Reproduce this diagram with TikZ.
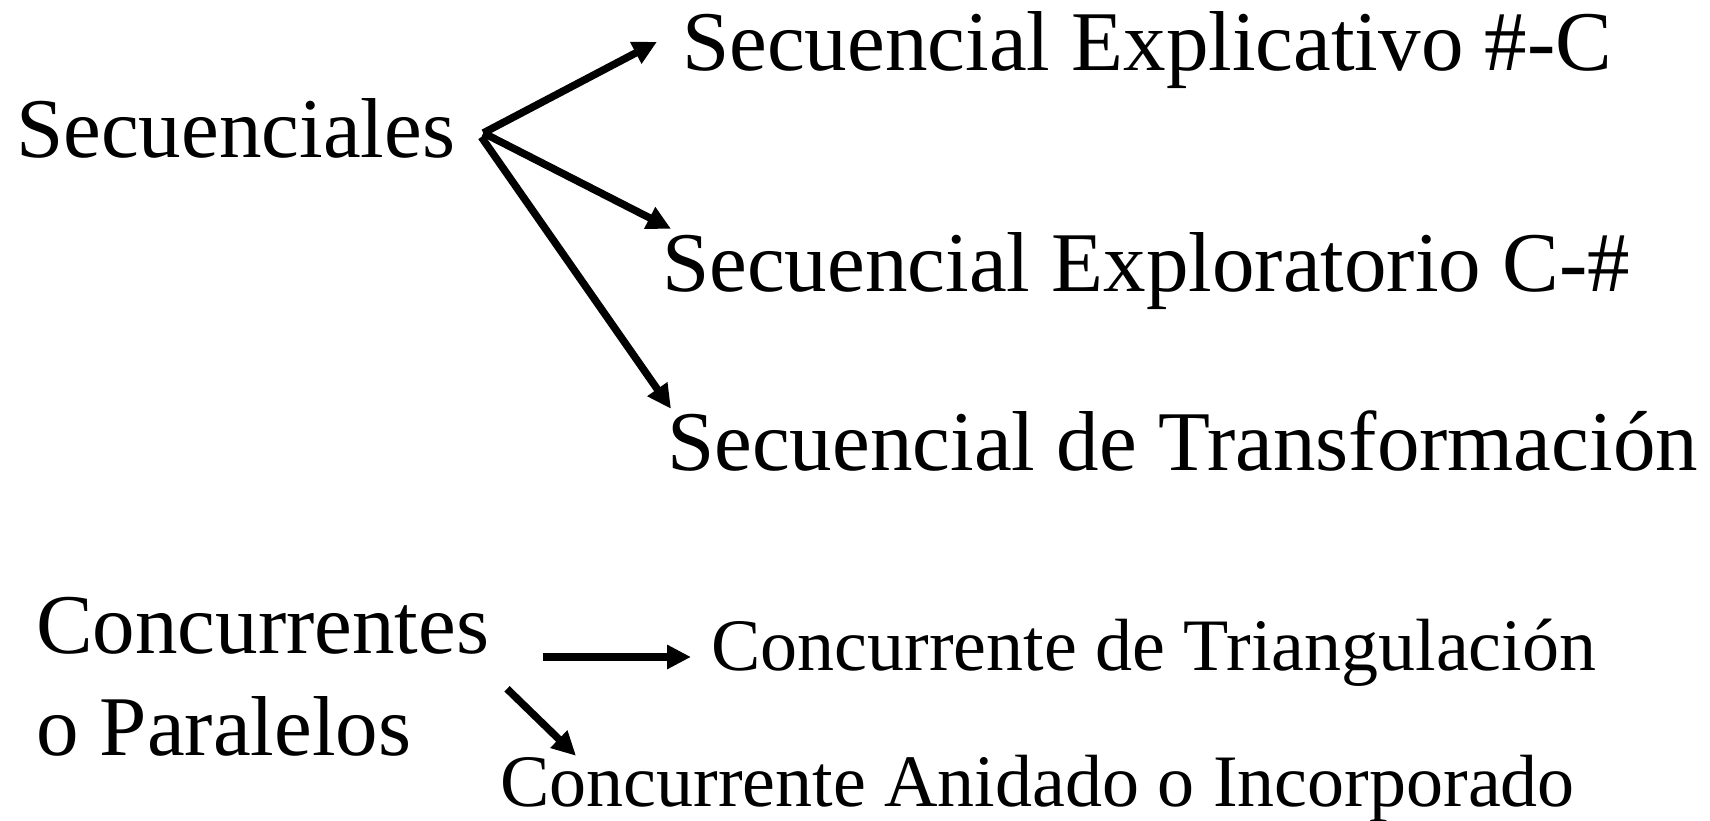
\documentclass[tikz,border=0pt]{standalone}
\usepackage{fontspec}
\setmainfont{Liberation Serif}
\usepackage{tikz}
\usetikzlibrary{arrows.meta, positioning}

\begin{document}
\begin{tikzpicture}[x=1pt, y=1pt,
        bigfont/.style={inner sep=0pt, anchor=base west, font=\fontsize{85}{102}\selectfont},
        biglbl/.style={bigfont, text height=58pt, text depth=18pt},
        smalllbl/.style={inner sep=0pt, anchor=base west, font=\fontsize{74}{89}\selectfont, text height=50pt, text depth=16pt},
        arr/.style={line width=7.5pt, -{Triangle[length=24pt, width=23pt]}}]
    \useasboundingbox (0,0) rectangle (1710,821);
    % left labels
    \node[biglbl] (sec) at (16,663) {Secuenciales};
    \node[bigfont, align=left] (conc) at (36,65) {Concurrentes\\o Paralelos};
    % sequential types
    \node[biglbl] (expl) at (682,750) {Secuencial Explicativo \#-C};
    \node[biglbl] (explo) at (662,529) {Secuencial Exploratorio C-\#};
    \node[biglbl] (trans) at (667,350) {Secuencial de Transformación};
    % concurrent types
    \node[smalllbl] (tri) at (711,150) {Concurrente de Triangulación};
    \node[smalllbl] (anid) at (500,14) {Concurrente Anidado o Incorporado};
    % arrows
    \coordinate (fork) at ([xshift=28pt, yshift=5pt]sec.east);
    \draw[arr] (fork) -- ([xshift=-25pt, yshift=-29pt]expl.north west);
    \draw[arr] (fork) -- ([xshift=9pt, yshift=5pt]explo.north west);
    \draw[arr] ([xshift=-2pt, yshift=-4pt]fork) -- ([xshift=4pt, yshift=4pt]trans.north west);
    \draw[arr] ([xshift=-168pt, yshift=-3pt]tri.west) -- ([xshift=-20pt, yshift=-3pt]tri.west);
    \draw[arr] ([xshift=7pt, yshift=68pt]anid.north west) -- ([xshift=76pt, yshift=1pt]anid.north west);
\end{tikzpicture}
\end{document}
